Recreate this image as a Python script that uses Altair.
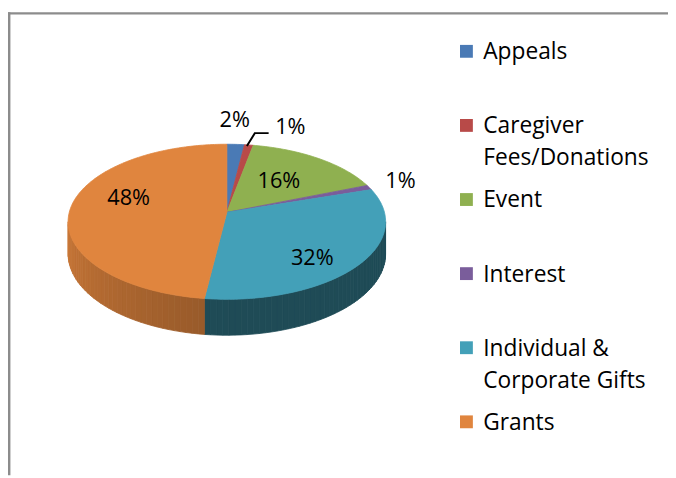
import math
import altair as alt
import pandas as pd

# ---------------- data ----------------
categories = ["Appeals", "Caregiver Fees/Donations", "Event", "Interest",
              "Individual & Corporate Gifts", "Grants"]
legend_labels = ["Appeals", "Caregiver\nFees/Donations", "Event", "Interest",
                 "Individual &\nCorporate Gifts", "Grants"]
shares = [2, 1, 16, 1, 32, 48]
colors = ["#4a7ab5", "#b84a48", "#8fb050", "#7a5d9b", "#43a0b8", "#e0853e"]

FONT = "Open Sans"
W, H = 668, 470

# ------------- 3-D pie geometry (perspective-projected disc) -------------
CX, CY = 229.5, 212.0      # projected centre of the top face
A, B = 159.5, 77.3         # horizontal / depth radii
K = 0.121                  # perspective strength
DEPTH = 32.0               # thickness of the disc


def proj(theta_deg, r=1.0, depth=0.0):
    t = math.radians(theta_deg)
    X, Z = r * math.sin(t), r * math.cos(t)
    w = 1 + K * Z
    return CX + A * X / w, CY - (B * Z - depth) / w


total = sum(shares)
starts, ends = [], []
acc = 0
for v in shares:
    starts.append(360.0 * acc / total)
    acc += v
    ends.append(360.0 * acc / total)
mids = [(s + e) / 2 for s, e in zip(starts, ends)]
pct_labels = [f"{round(v / total * 100)}%" for v in shares]

# top faces
top_rows = []
for i, c in enumerate(categories):
    s, e = starts[i], ends[i]
    n = max(2, int(math.ceil(e - s)))
    pts = [(CX, CY)] + [proj(s + (e - s) * j / n) for j in range(n + 1)] + [(CX, CY)]
    for o, (x, y) in enumerate(pts):
        top_rows.append({"cat": c, "o": o, "x": x, "y": y})
top_df = pd.DataFrame(top_rows)

# visible side wall (front half), in shaded strips
TR = math.degrees(math.acos(-K))
TL = 360 - TR


def hex_to_rgb(h):
    h = h.lstrip("#")
    return tuple(int(h[k:k + 2], 16) for k in (0, 2, 4))


def shade(h, f):
    r, g, b = hex_to_rgb(h)
    return "#%02x%02x%02x" % tuple(max(0, min(255, int(round(c * f)))) for c in (r, g, b))


side_rows = []
for i, c in enumerate(categories):
    a, b = max(starts[i], TR), min(ends[i], TL)
    if b <= a:
        continue
    front = a < 180 < b or b <= 186.9
    n = max(1, int(math.ceil((b - a) / 2.0)))
    for j in range(n):
        a_j = a + (b - a) * j / n
        b_j = a + (b - a) * (j + 1) / n
        m = (a_j + b_j) / 2
        if front:
            f = 0.47
        else:
            f = 0.68 + 0.22 * (m - a) / (TL - a)
        col = shade(colors[i], f)
        pts = [proj(a_j), proj(b_j), proj(b_j, depth=DEPTH), proj(a_j, depth=DEPTH), proj(a_j)]
        for o, (x, y) in enumerate(pts):
            side_rows.append({"pid": f"{i}-{j}", "o": o, "x": x, "y": y, "fill": col})
side_df = pd.DataFrame(side_rows)

# percentage labels
label_r = [1.40, 1.0, 0.55, 1.12, 0.66, 0.64]
label_dx = [-4, 0, -0.5, 15, 1, 2]
label_dy = [-2.5, 0, -1.5, -4.5, 10.5, -12.5]
lab_rows = []
leader_rows = []
for i, c in enumerate(categories):
    x, y = proj(mids[i], label_r[i])
    if i == 1:  # small slice with leader line
        sx, sy = x, y
        ex, ey = sx + 6, sy - 12
        fx, fy = ex + 14, ey
        leader_rows += [{"o": 0, "x": sx - 2, "y": sy + 1},
                        {"o": 1, "x": ex, "y": ey},
                        {"o": 2, "x": fx, "y": fy}]
        x, y = fx + 22, fy - 7.5
    else:
        x, y = x + label_dx[i], y + label_dy[i]
    lab_rows.append({"t": pct_labels[i], "x": x, "y": y + 8})
lab_df = pd.DataFrame(lab_rows)
leader_df = pd.DataFrame(leader_rows)

# legend
leg_df = pd.DataFrame({
    "cat": categories,
    "label": legend_labels,
    "y": [57 + 75 * i for i in range(len(categories))],
})
leg_df["ys"] = leg_df["y"] - 8
leg_df["xs"] = 472
leg_df["xt"] = 489

# ---------------- chart ----------------
xs = alt.Scale(domain=[8, 8 + W], range=[0, W], nice=False, zero=False)
ys = alt.Scale(domain=[8, 8 + H], range=[0, H], nice=False, zero=False)
cscale = alt.Scale(domain=categories, range=colors)

one = pd.DataFrame({"k": [0]})
frame_top = alt.Chart(one).mark_rule(color="#8c8c8c", strokeWidth=2.5).encode(
    x=alt.value(0), x2=alt.value(W), y=alt.value(2.6))
frame_left = alt.Chart(one).mark_rule(color="#8c8c8c", strokeWidth=2.5).encode(
    x=alt.value(1.2), y=alt.value(1.4), y2=alt.value(H))

sides = alt.Chart(side_df).mark_line(strokeWidth=0.8, filled=True).encode(
    x=alt.X("x:Q", scale=xs, axis=None),
    y=alt.Y("y:Q", scale=ys, axis=None),
    detail="pid:N",
    order="o:Q",
    fill=alt.Fill("fill:N", scale=None),
    stroke=alt.Stroke("fill:N", scale=None),
)

tops = alt.Chart(top_df).mark_line(strokeWidth=0.8, filled=True).encode(
    x=alt.X("x:Q", scale=xs, axis=None),
    y=alt.Y("y:Q", scale=ys, axis=None),
    detail="cat:N",
    order="o:Q",
    fill=alt.Fill("cat:N", scale=cscale, legend=None),
    stroke=alt.Stroke("cat:N", scale=cscale, legend=None),
)

leader = alt.Chart(leader_df).mark_line(color="black", strokeWidth=2).encode(
    x=alt.X("x:Q", scale=xs, axis=None),
    y=alt.Y("y:Q", scale=ys, axis=None),
    order="o:Q",
)

labels = alt.Chart(lab_df).mark_text(
    font=FONT, fontSize=22, color="black", align="center", baseline="alphabetic"
).encode(
    x=alt.X("x:Q", scale=xs, axis=None),
    y=alt.Y("y:Q", scale=ys, axis=None),
    text="t:N",
)

leg_sq = alt.Chart(leg_df).mark_square(size=169, opacity=1).encode(
    x=alt.X("xs:Q", scale=xs, axis=None),
    y=alt.Y("ys:Q", scale=ys, axis=None),
    color=alt.Color("cat:N", scale=cscale, legend=None),
)

leg_txt = alt.Chart(leg_df).mark_text(
    font=FONT, fontSize=23, color="black", align="left", baseline="alphabetic",
    lineBreak="\n", lineHeight=32.5
).encode(
    x=alt.X("xt:Q", scale=xs, axis=None),
    y=alt.Y("y:Q", scale=ys, axis=None),
    text="label:N",
)

chart = alt.layer(
    frame_top, frame_left, sides, tops, leader, labels, leg_sq, leg_txt
).properties(
    width=W, height=H, padding=0, autosize=alt.AutoSizeParams(type="none"),
    background="white",
).configure_view(stroke=None)

chart.save("out.html", embed_options={"renderer": "svg", "actions": False})
